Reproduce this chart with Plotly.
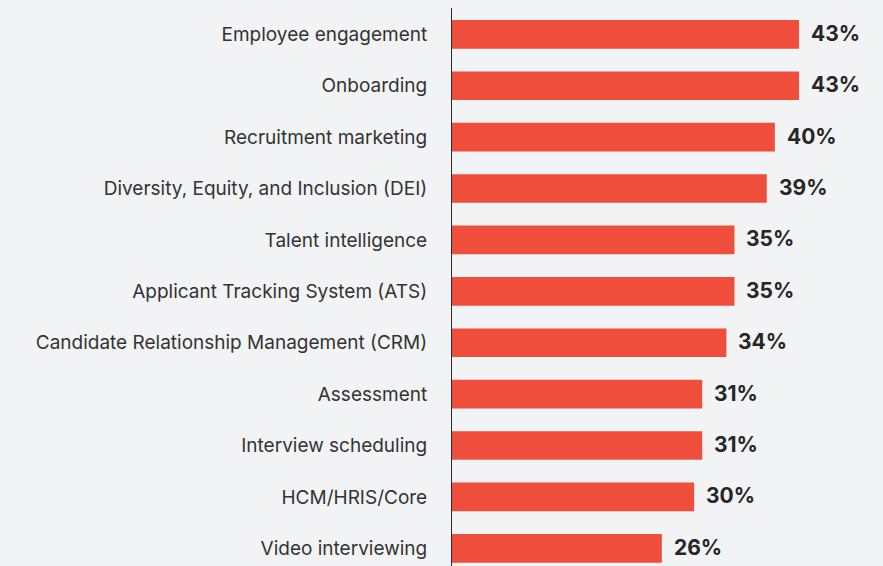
import plotly.graph_objects as go

categories = [
    "Employee engagement",
    "Onboarding",
    "Recruitment marketing",
    "Diversity, Equity, and Inclusion (DEI)",
    "Talent intelligence",
    "Applicant Tracking System (ATS)",
    "Candidate Relationship Management (CRM)",
    "Assessment",
    "Interview scheduling",
    "HCM/HRIS/Core",
    "Video interviewing",
]
values = [43, 43, 40, 39, 35, 35, 34, 31, 31, 30, 26]
value_labels = [f"{v}%" for v in values]

BG = "#f2f3f5"
BAR = "#ef4e3c"

fig = go.Figure(
    go.Bar(
        x=values,
        y=categories,
        orientation="h",
        marker=dict(color=BAR, line=dict(width=0)),
        width=0.558,
        hoverinfo="skip",
    )
)

for c, v, t in zip(categories, values, value_labels):
    fig.add_annotation(
        x=v, y=c, text=f"<b>{t}</b>", showarrow=False,
        xanchor="left", yanchor="middle", xshift=10, yshift=1,
        font=dict(family="Inter, Roboto, sans-serif", size=21, color="#262626"),
    )

fig.update_layout(
    width=883, height=566,
    margin=dict(l=452, r=0, t=8, b=0, autoexpand=False),
    paper_bgcolor=BG, plot_bgcolor=BG,
    showlegend=False,
    xaxis=dict(range=[0, 53.4], visible=False, fixedrange=True),
    yaxis=dict(
        type="category",
        categoryorder="array", categoryarray=categories,
        range=[10.344, -0.512],
        showline=True, linecolor="#2b2b2b", linewidth=1,
        showgrid=False, zeroline=False,
        ticks="", ticklabelstandoff=20,
        tickfont=dict(family="Inter, Roboto, sans-serif", size=19, color="#333333"),
        automargin=False,
        fixedrange=True,
    ),
)

fig.write_html(
    "out.html",
    config={"displayModeBar": False},
    post_script="document.body.style.margin='0';document.body.style.background='#f2f3f5';",
)
